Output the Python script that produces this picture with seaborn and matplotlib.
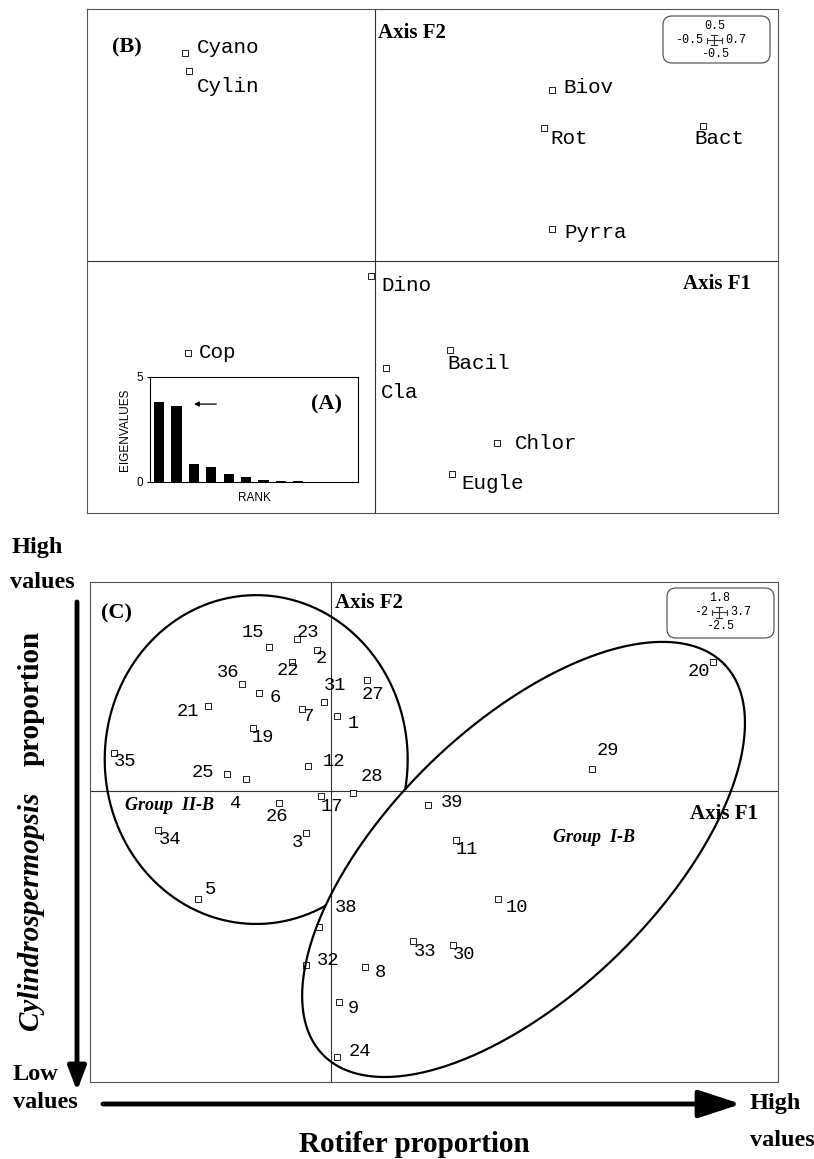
import numpy as np
import matplotlib
matplotlib.use("Agg")
import matplotlib.pyplot as plt
import seaborn as sns
from matplotlib.patches import FancyBboxPatch, FancyArrowPatch
from matplotlib.lines import Line2D
from matplotlib.transforms import Affine2D

# ---------------- DATA ----------------
# Panel B: variables on PCA axes F1/F2
b_vars = ["Cyano", "Cylin", "Biov", "Rot", "Bact", "Pyrra",
          "Dino", "Cop", "Cla", "Bacil", "Chlor", "Eugle"]
b_f1 = [-0.330, -0.323, 0.307, 0.293, 0.569, 0.307,
        -0.007, -0.325, 0.019, 0.130, 0.212, 0.134]
b_f2 = [0.412, 0.376, 0.340, 0.263, 0.267, 0.064,
        -0.029, -0.183, -0.213, -0.176, -0.362, -0.422]
b_scale = [-0.5, 0.7, -0.5, 0.5]      # xmin, xmax, ymin, ymax

# Panel A: eigenvalues
eig_rank = list(range(1, 13))
eig_vals = [3.81, 3.62, 0.87, 0.71, 0.40, 0.22, 0.11, 0.05, 0.03, 0.02, 0.01, 0.005]

# Panel C: samples on F1/F2
c_ids = [1, 2, 3, 4, 5, 6, 7, 8, 9, 10, 11, 12, 15, 17, 19, 20, 21, 22, 23, 24,
         25, 26, 27, 28, 29, 30, 31, 32, 33, 34, 35, 36, 38, 39]
c_f1 = [0.049, -0.122, -0.210, -0.708, -1.103, -0.597, -0.244, 0.281, 0.065, 1.378,
        1.032, -0.196, -0.517, -0.089, -0.647, 3.159, -1.025, -0.324, -0.283, 0.044,
        -0.862, -0.432, 0.297, 0.176, 2.162, 1.005, -0.059, -0.210, 0.674, -1.434,
        -1.801, -0.741, -0.105, 0.798]
c_f2 = [0.650, 1.215, -0.361, 0.103, -0.926, 0.843, 0.708, -1.508, -1.809, -0.929,
        -0.419, 0.218, 1.243, -0.040, 0.542, 1.109, 0.733, 1.109, 1.307, -2.282,
        0.146, -0.103, 0.957, -0.017, 0.189, -1.322, 0.765, -1.494, -1.287, -0.333,
        0.332, 0.920, -1.164, -0.118]
c_scale = [-2, 3.7, -2.5, 1.8]

# group ellipses (data units)
grp2_center, grp2_rx, grp2_ry = (-0.623, 0.273), 1.255, 1.414
grp1_center, grp1_a, grp1_b, grp1_angle = (1.592, -0.586), 2.363, 1.131, 44.2

# ---------------- LAYOUT (label offsets in pixels, dy positive = down) -------------
b_off = {"Cyano": (12, -6), "Cylin": (8, 15), "Biov": (12, -2), "Rot": (7, 10),
         "Bact": (-8, 12), "Pyrra": (13, 4), "Dino": (10, 10), "Cop": (11, -1),
         "Cla": (-5, 24), "Bacil": (-2, 14), "Chlor": (18, 0), "Eugle": (9, 10)}
c_off = {1: (16, 8), 2: (5, 8), 3: (-9, 9), 4: (-10, 24), 5: (12, -9), 6: (16, 4),
         7: (6, 8), 8: (15, 6), 9: (14, 7), 10: (19, 8), 11: (11, 9), 12: (26, -4),
         15: (-16, -14), 17: (11, 11), 19: (10, 9), 20: (-14, 9), 21: (-20, 5),
         22: (-4, 8), 23: (11, -7), 24: (23, -5), 25: (-24, -2), 26: (-2, 13),
         27: (6, 14), 28: (19, -17), 29: (16, -19), 30: (11, 9), 31: (11, -17),
         32: (22, -5), 33: (12, 11), 34: (12, 9), 35: (11, 9), 36: (-14, -12),
         38: (27, -19), 39: (24, -3)}

MONO = "Liberation Mono"
SERIF = "Liberation Serif"
SANS = "Liberation Sans"
FRAME = "#555555"
AXLINE = "#333333"

W, H = 814, 1159
fig = plt.figure(figsize=(W / 100, H / 100), dpi=100)
fig.patch.set_facecolor("white")
pix = Affine2D().scale(1 / W, -1 / H).translate(0, 1) + fig.transFigure


def rect(l, t, r, b):
    return [l / W, 1 - b / H, (r - l) / W, (b - t) / H]


def ftext(x, y, s, **kw):
    fig.text(x, y, s, transform=pix, **kw)


def style_frame(ax, color=FRAME, lw=0.8):
    ax.set_xticks([])
    ax.set_yticks([])
    for sp in ax.spines.values():
        sp.set_color(color)
        sp.set_linewidth(lw)


def scale_box(x0, y0, x1, y1, top, left, right, bottom, cx, cy, arms):
    box = FancyBboxPatch((x0, y0), x1 - x0, y1 - y0,
                         boxstyle="round,pad=0,rounding_size=9",
                         transform=pix, fill=False, ec="#444444", lw=0.8, zorder=5)
    fig.add_artist(box)
    l, r, u, d = arms
    kw = dict(transform=pix, color="#333333", lw=0.8, zorder=6)
    fig.add_artist(Line2D([cx - l, cx + r], [cy, cy], **kw))
    fig.add_artist(Line2D([cx, cx], [cy - u, cy + d], **kw))
    fig.add_artist(Line2D([cx - l, cx - l], [cy - 2.5, cy + 2.5], **kw))
    fig.add_artist(Line2D([cx + r, cx + r], [cy - 2.5, cy + 2.5], **kw))
    fig.add_artist(Line2D([cx - 3, cx + 3], [cy - u, cy - u], **kw))
    fig.add_artist(Line2D([cx - 3, cx + 3], [cy + d, cy + d], **kw))
    tk = dict(family=MONO, fontsize=8.5, ha="center", va="center", zorder=6)
    ftext(cx + 1, cy - 14, top, **tk)
    ftext(cx - l - 4, cy, left, **{**tk, "ha": "right"})
    ftext(cx + r + 3, cy, right, **{**tk, "ha": "left"})
    ftext(cx + 1, cy + 14, bottom, **tk)


def fmt(v):
    return f"{v:g}"


# ---------------- PANEL B ----------------
axB = fig.add_axes(rect(87, 9, 778, 513))
axB.set_xlim(b_scale[0], b_scale[1])
axB.set_ylim(b_scale[2], b_scale[3])
axB.axhline(0, color=AXLINE, lw=0.8, zorder=1)
axB.axvline(0, color=AXLINE, lw=0.8, zorder=1)
sns.scatterplot(x=b_f1, y=b_f2, marker="s", s=13, color="white",
                edgecolor="black", linewidth=0.6, ax=axB, zorder=3, legend=False)
for name, x, y in zip(b_vars, b_f1, b_f2):
    dx, dy = b_off[name]
    axB.annotate(name, (x, y), xytext=(dx, -dy), textcoords="offset pixels",
                 ha="left", va="center", family=MONO, fontsize=15)
style_frame(axB)
ftext(112, 47, "(B)", family=SERIF, weight="bold", fontsize=16, ha="left", va="center")
ftext(378, 33, "Axis F2", family=SERIF, weight="bold", fontsize=15, ha="left", va="center")
ftext(751, 284, "Axis F1", family=SERIF, weight="bold", fontsize=15, ha="right", va="center")
scale_box(663, 16, 770, 63, fmt(b_scale[3]), fmt(b_scale[0]), fmt(b_scale[1]),
          fmt(b_scale[2]), 714, 40, (7, 8, 5, 5))

# ---------------- PANEL A (inset) ----------------
axA = fig.add_axes(rect(150, 377, 358, 482))
axA.set_facecolor("white")
sns.barplot(x=eig_rank, y=eig_vals, color="black", saturation=1, width=0.58, ax=axA)
axA.set_xlim(-0.52, 11.43)
axA.set_ylim(0, 5)
axA.set_xticks([])
axA.set_yticks([0, 5])
axA.tick_params(axis="y", length=2, pad=3, labelsize=8.5)
for lab in axA.get_yticklabels():
    lab.set_family(SANS)
axA.set_xlabel("RANK", family=SANS, fontsize=8.5, labelpad=7)
axA.set_ylabel("EIGENVALUES", family=SANS, fontsize=8.5, labelpad=4)
for sp in axA.spines.values():
    sp.set_color("black")
    sp.set_linewidth(0.8)
axA.annotate("", xy=(1.85, 3.71), xytext=(3.45, 3.71),
             arrowprops=dict(arrowstyle="-|>", color="black", lw=0.9, mutation_scale=7))
axA.text(9.6, 3.71, "(A)", family=SERIF, weight="bold", fontsize=16,
         ha="center", va="center")

# ---------------- PANEL C ----------------
axC = fig.add_axes(rect(90, 582, 778, 1082))
axC.set_xlim(c_scale[0], c_scale[1])
axC.set_ylim(c_scale[2], c_scale[3])
axC.axhline(0, color=AXLINE, lw=0.8, zorder=1)
axC.axvline(0, color=AXLINE, lw=0.8, zorder=1)
sns.scatterplot(x=c_f1, y=c_f2, marker="s", s=14, color="white",
                edgecolor="black", linewidth=0.6, ax=axC, zorder=3, legend=False)
for cid, x, y in zip(c_ids, c_f1, c_f2):
    dx, dy = c_off[cid]
    axC.annotate(str(cid), (x, y), xytext=(dx, -dy), textcoords="offset pixels",
                 ha="center", va="center", family=MONO, fontsize=13.5)
style_frame(axC)

# group ellipses
T = axC.transData
sx = T.transform((1, 0))[0] - T.transform((0, 0))[0]
sy = T.transform((0, 1))[1] - T.transform((0, 0))[1]
smean = (sx + sy) / 2
t = np.linspace(0, 2 * np.pi, 600)
cpx = T.transform(grp1_center)
a_px, b_px = grp1_a * smean, grp1_b * smean
th = np.radians(grp1_angle)
X1 = cpx[0] + a_px * np.cos(t) * np.cos(th) - b_px * np.sin(t) * np.sin(th)
Y1 = cpx[1] + a_px * np.cos(t) * np.sin(th) + b_px * np.sin(t) * np.cos(th)
big = T.inverted().transform(np.column_stack([X1, Y1]))
axC.plot(big[:, 0], big[:, 1], color="black", lw=1.6, zorder=4)

ex = grp2_center[0] + grp2_rx * np.cos(t)
ey = grp2_center[1] + grp2_ry * np.sin(t)
disp = T.transform(np.column_stack([ex, ey]))
rel = disp - cpx
u = rel[:, 0] * np.cos(th) + rel[:, 1] * np.sin(th)
n = -rel[:, 0] * np.sin(th) + rel[:, 1] * np.cos(th)
inside = (u / a_px) ** 2 + (n / b_px) ** 2 < 1
ex = np.where(inside, np.nan, ex)
ey = np.where(inside, np.nan, ey)
k = int(np.argmax(inside))
ex, ey = np.roll(ex, -k), np.roll(ey, -k)
axC.plot(ex, ey, color="black", lw=1.6, zorder=4)

ftext(117, 613, "(C)", family=SERIF, weight="bold", fontsize=16, ha="center", va="center")
ftext(335, 603, "Axis F2", family=SERIF, weight="bold", fontsize=15, ha="left", va="center")
ftext(758, 814, "Axis F1", family=SERIF, weight="bold", fontsize=15, ha="right", va="center")
ftext(125, 805, "Group  II-B", family=SERIF, weight="bold", style="italic",
      fontsize=13, ha="left", va="center")
ftext(553, 838, "Group  I-B", family=SERIF, weight="bold", style="italic",
      fontsize=13, ha="left", va="center")
scale_box(667, 588, 774, 638, fmt(c_scale[3]), fmt(c_scale[0]), fmt(c_scale[1]),
          fmt(c_scale[2]), 719, 612, (7, 8, 5.5, 6))

# ---------------- outer annotations ----------------
big_kw = dict(family=SERIF, weight="bold", fontsize=17.5, va="center", ha="left")
ftext(12, 547, "High", **big_kw)
ftext(10, 582, "values", **big_kw)
ftext(13, 1075, "Low", **big_kw)
ftext(13, 1103, "values", **big_kw)
ftext(750, 1103, "High", **big_kw)
ftext(750, 1140, "values", **big_kw)
ftext(414, 1145, "Rotifer proportion", family=SERIF, weight="bold", fontsize=21,
      ha="center", va="center")
ftext(31, 1030, "Cylindrospermopsis", family=SERIF, weight="bold", style="italic",
      fontsize=21, rotation=90, ha="center", va="bottom")
ftext(31, 766, "proportion", family=SERIF, weight="bold", fontsize=21,
      rotation=90, ha="center", va="bottom")

fig.add_artist(FancyArrowPatch((77, 602), (77, 1091), transform=pix,
                               arrowstyle="-|>,head_length=1.45,head_width=0.55",
                               mutation_scale=10, lw=3.5, color="black",
                               shrinkA=0, shrinkB=0))
fig.add_artist(FancyArrowPatch((103, 1104), (741, 1104), transform=pix,
                               arrowstyle="-|>,head_length=2.6,head_width=0.85",
                               mutation_scale=10, lw=3.5, color="black",
                               shrinkA=0, shrinkB=0))

fig.savefig("out.png", dpi=100, facecolor="white")
